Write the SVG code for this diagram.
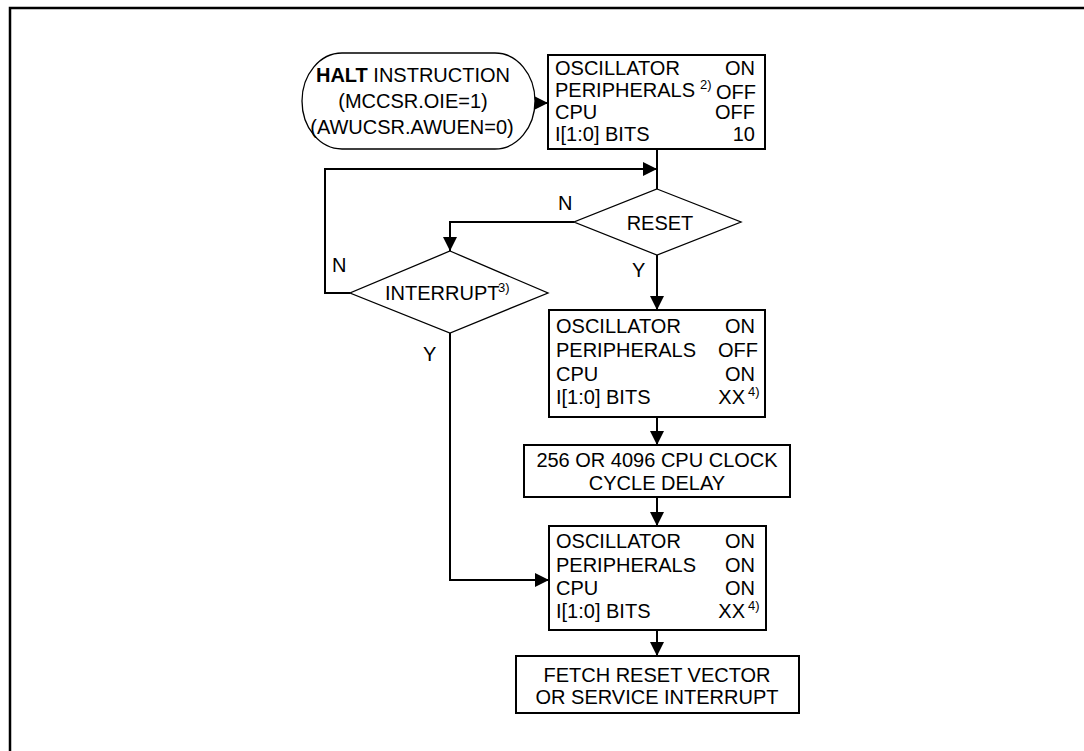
<svg xmlns="http://www.w3.org/2000/svg" width="1084" height="751" viewBox="0 0 1084 751">
<style>
.t{font-family:"Liberation Sans",Arial,sans-serif;font-size:20px;fill:#000}
.m{text-anchor:middle}
.e{text-anchor:end}
.sup{font-size:13px}
.box{fill:#fff;stroke:#000;stroke-width:2}
.dia{fill:#fff;stroke:#000;stroke-width:1.3}
.c{fill:none;stroke:#000;stroke-width:2}
</style>
<defs>
<marker id="ah" markerUnits="userSpaceOnUse" markerWidth="14" markerHeight="14" refX="14" refY="7" orient="auto">
<path d="M0,0 L14,7 L0,14 z" fill="#000"/>
</marker>
</defs>
<rect width="1084" height="751" fill="#fff"/>
<path d="M10,751 V8 H1084" fill="none" stroke="#000" stroke-width="2.5"/>

<g id="connectors">
<path class="c" d="M532,103 H548" marker-end="url(#ah)"/>
<path class="c" d="M657,149 V189"/>
<path class="c" d="M350,293 H325 V169 H657" marker-end="url(#ah)"/>
<path class="c" d="M574,222 H450 V251" marker-end="url(#ah)"/>
<path class="c" d="M657,255 V310" marker-end="url(#ah)"/>
<path class="c" d="M657,417 V445" marker-end="url(#ah)"/>
<path class="c" d="M657,497 V526" marker-end="url(#ah)"/>
<path class="c" d="M450,333 V580 H549" marker-end="url(#ah)"/>
<path class="c" d="M657,630 V656" marker-end="url(#ah)"/>
<text class="t" x="558" y="210">N</text>
<text class="t" x="632" y="277">Y</text>
<text class="t" x="332" y="272">N</text>
<text class="t" x="423" y="361">Y</text>
</g>

<g id="halt">
<rect class="dia" x="302" y="53" width="233" height="96" rx="40" ry="48"/>
<text class="t m" x="413" y="82"><tspan font-weight="bold">HALT</tspan> INSTRUCTION</text>
<text class="t m" x="413" y="108">(MCCSR.OIE=1)</text>
<text class="t m" x="412" y="134">(AWUCSR.AWUEN=0)</text>
</g>

<g id="state1">
<rect class="box" x="548" y="55" width="217" height="94"/>
<text class="t" x="555" y="75">OSCILLATOR</text>
<text class="t" x="555" y="97">PERIPHERALS</text>
<text class="t sup" x="700" y="89">2)</text>
<text class="t" x="555" y="119">CPU</text>
<text class="t" x="555" y="141">I[1:0] BITS</text>
<text class="t e" x="755" y="75">ON</text>
<text class="t e" x="756" y="99">OFF</text>
<text class="t e" x="755" y="119">OFF</text>
<text class="t e" x="755" y="141">10</text>
</g>

<g id="reset">
<polygon class="dia" points="657,189 741,222 657,255 574,222"/>
<text class="t m" x="660" y="230">RESET</text>
</g>

<g id="interrupt">
<polygon class="dia" points="450,251 548,293 450,333 350,293"/>
<text class="t" x="385" y="300" font-size="19">INTERRUPT</text>
<text class="t sup" x="498" y="292">3)</text>
</g>

<g id="state2">
<rect class="box" x="549" y="310" width="216" height="107"/>
<text class="t" x="556" y="333">OSCILLATOR</text>
<text class="t" x="556" y="357">PERIPHERALS</text>
<text class="t" x="556" y="381">CPU</text>
<text class="t" x="556" y="404">I[1:0] BITS</text>
<text class="t e" x="755" y="333">ON</text>
<text class="t e" x="758" y="357">OFF</text>
<text class="t e" x="755" y="381">ON</text>
<text class="t e" x="745" y="404">XX</text>
<text class="t sup" x="748" y="396">4)</text>
</g>

<g id="delay">
<rect class="box" x="524" y="445" width="266" height="52"/>
<text class="t m" x="657" y="467">256 OR 4096 CPU CLOCK</text>
<text class="t m" x="657" y="490">CYCLE DELAY</text>
</g>

<g id="state3">
<rect class="box" x="549" y="526" width="217" height="104"/>
<text class="t" x="556" y="548">OSCILLATOR</text>
<text class="t" x="556" y="572">PERIPHERALS</text>
<text class="t" x="556" y="595">CPU</text>
<text class="t" x="556" y="618">I[1:0] BITS</text>
<text class="t e" x="755" y="548">ON</text>
<text class="t e" x="755" y="572">ON</text>
<text class="t e" x="755" y="595">ON</text>
<text class="t e" x="745" y="618">XX</text>
<text class="t sup" x="748" y="610">4)</text>
</g>

<g id="fetch">
<rect class="box" x="516" y="656" width="283" height="57"/>
<text class="t m" x="657" y="682">FETCH RESET VECTOR</text>
<text class="t m" x="657" y="704">OR SERVICE INTERRUPT</text>
</g>
</svg>
